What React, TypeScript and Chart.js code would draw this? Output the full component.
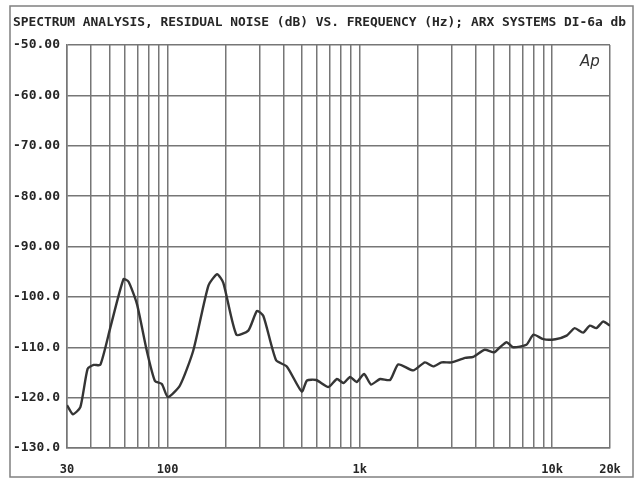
import React, { useEffect, useRef } from "react";
import { Chart, registerables } from "chart.js";

Chart.register(...registerables);

const titleText =
  "SPECTRUM ANALYSIS, RESIDUAL NOISE (dB) VS. FREQUENCY (Hz); ARX SYSTEMS DI-6a db";

const freqHz = [
  30, 32.2, 35.2, 38.4, 41.3, 44.7, 50.4, 59, 62.7, 69.3, 78, 86, 93.4, 100.5,
  116, 136, 163, 181, 195, 228, 263, 292, 315, 367, 417, 499, 531, 593, 687,
  760, 822, 890, 962, 1053, 1143, 1275, 1437, 1585, 1896, 2181, 2408, 2663,
  3000, 3528, 3890, 4459, 5000, 5355, 5800, 6270, 7350, 8000, 9000, 10400,
  11900, 13100, 14500, 15700, 17000, 18400, 20000,
];

const noiseDb = [
  -121.5, -123.3, -121.9, -114.3, -113.5, -113.5, -106.1, -96.5, -97.0, -101.4,
  -110.7, -116.7, -117.3, -119.9, -117.6, -110.7, -97.8, -95.5, -97.2, -107.5,
  -106.7, -102.8, -103.8, -112.6, -113.8, -118.8, -116.6, -116.5, -117.9,
  -116.3, -117.1, -115.9, -116.9, -115.3, -117.4, -116.3, -116.5, -113.4,
  -114.6, -113.0, -113.8, -113.0, -113.0, -112.1, -111.9, -110.5, -111.0,
  -110.0, -109.0, -110.0, -109.5, -107.5, -108.4, -108.4, -107.7, -106.2,
  -107.1, -105.7, -106.2, -104.9, -105.7,
];

const xGridTicks = [
  30, 40, 50, 60, 70, 80, 90, 100, 200, 300, 400, 500, 600, 700, 800, 900,
  1000, 2000, 3000, 4000, 5000, 6000, 7000, 8000, 9000, 10000, 20000,
];

const xTickLabels: Record<number, string> = {
  30: "30",
  100: "100",
  1000: "1k",
  10000: "10k",
  20000: "20k",
};

const yMin = -130;
const yMax = -50;

const MONO = "'DejaVu Sans Mono', monospace";
const GRID = "#767676";
const INK = "#262626";

const decorPlugin = {
  id: "decor",
  beforeDraw(chart: any) {
    const { ctx, width, height } = chart;
    ctx.save();
    ctx.fillStyle = "#ffffff";
    ctx.fillRect(0, 0, width, height);
    ctx.restore();
  },
  afterDraw(chart: any) {
    const { ctx } = chart;
    ctx.save();
    // outer frame
    ctx.strokeStyle = "#808080";
    ctx.lineWidth = 1.5;
    ctx.strokeRect(10, 6, 623, 471);
    // title
    ctx.fillStyle = INK;
    ctx.font = `bold 12.9px ${MONO}`;
    ctx.textAlign = "left";
    ctx.textBaseline = "middle";
    ctx.fillText(titleText, 13, 23);
    // Ap logo
    ctx.font = "italic 15px 'DejaVu Sans', sans-serif";
    ctx.fillStyle = "#333";
    ctx.textBaseline = "alphabetic";
    ctx.fillText("Ap", 580, 66);
    ctx.restore();
  },
};

export default function App() {
  const ref = useRef<HTMLCanvasElement | null>(null);

  useEffect(() => {
    if (!ref.current) return;
    const chart = new Chart(ref.current, {
      type: "line",
      data: {
        datasets: [
          {
            data: freqHz.map((f, i) => ({ x: f, y: noiseDb[i] })),
            borderColor: "#353535",
            borderWidth: 2.4,
            pointRadius: 0,
            fill: false,
            tension: 0.2,
          },
        ],
      },
      options: {
        animation: false,
        responsive: false,
        devicePixelRatio: 1,
        layout: { padding: { left: 10, top: 45, right: 27, bottom: 0 } },
        plugins: {
          legend: { display: false },
          title: { display: false },
          tooltip: { enabled: false },
        },
        scales: {
          x: {
            type: "logarithmic",
            min: 30,
            max: 20000,
            afterBuildTicks: (scale: any) => {
              scale.ticks = xGridTicks.map((v) => ({ value: v }));
            },
            afterFit: (scale: any) => {
              scale.height = 32;
            },
            grid: { color: GRID, lineWidth: 1.5, drawTicks: false },
            border: { display: true, color: GRID, width: 1.5 },
            ticks: {
              autoSkip: false,
              maxRotation: 0,
              padding: 15,
              color: INK,
              font: { family: MONO, size: 12, weight: "bold" },
              callback: (v: any) => xTickLabels[Number(v)] ?? "",
            },
          },
          y: {
            type: "linear",
            min: yMin,
            max: yMax,
            afterFit: (scale: any) => {
              scale.width = 57;
            },
            grid: { color: GRID, lineWidth: 1.5, drawTicks: false },
            border: { display: true, color: GRID, width: 1.5 },
            ticks: {
              stepSize: 10,
              padding: 7,
              color: INK,
              font: { family: MONO, size: 13, weight: "bold" },
              callback: (v: any) => {
                const n = Number(v);
                return n > -100 ? n.toFixed(2) : n.toFixed(1);
              },
            },
          },
        },
      },
      plugins: [decorPlugin],
    } as any);
    return () => chart.destroy();
  }, []);

  return (
    <div
      style={{
        position: "fixed",
        left: 0,
        top: 0,
        width: 637,
        height: 480,
        background: "#fff",
      }}
    >
      <canvas ref={ref} width={637} height={480} style={{ display: "block" }} />
    </div>
  );
}
